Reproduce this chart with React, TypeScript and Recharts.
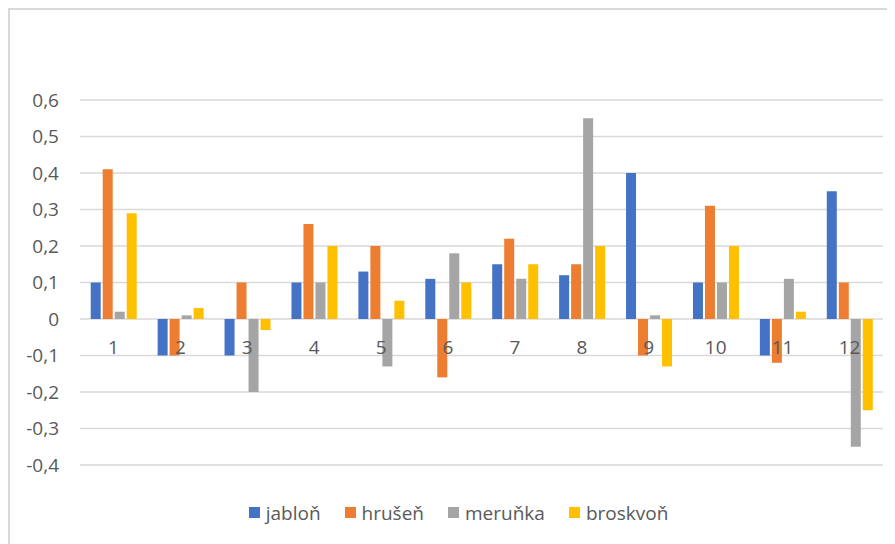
import React from 'react';
import {
  BarChart,
  Bar,
  XAxis,
  YAxis,
  CartesianGrid,
  Legend,
  ReferenceDot,
} from 'recharts';

// Month index 1..12
const categories = ['1', '2', '3', '4', '5', '6', '7', '8', '9', '10', '11', '12'];

const jablon = [0.1, -0.1, -0.1, 0.1, 0.13, 0.11, 0.15, 0.12, 0.4, 0.1, -0.1, 0.35];
const hrusen = [0.41, -0.1, 0.1, 0.26, 0.2, -0.16, 0.22, 0.15, -0.1, 0.31, -0.12, 0.1];
const merunka = [0.02, 0.01, -0.2, 0.1, -0.13, 0.18, 0.11, 0.55, 0.01, 0.1, 0.11, -0.35];
const broskvon = [0.29, 0.03, -0.03, 0.2, 0.05, 0.1, 0.15, 0.2, -0.13, 0.2, 0.02, -0.25];

const yTicks = [-0.4, -0.3, -0.2, -0.1, 0, 0.1, 0.2, 0.3, 0.4, 0.5, 0.6];

const series = [
  { key: 'jablon', name: 'jabloň', color: '#4472C4' },
  { key: 'hrusen', name: 'hrušeň', color: '#ED7D31' },
  { key: 'merunka', name: 'meruňka', color: '#A5A5A5' },
  { key: 'broskvon', name: 'broskvoň', color: '#FFC000' },
];

const data = categories.map((cat, i) => ({
  cat,
  jablon: jablon[i],
  hrusen: hrusen[i],
  merunka: merunka[i],
  broskvon: broskvon[i],
}));

const FONT = '"Open Sans", "Liberation Sans", sans-serif';
const TEXT = '#595959';
const GRID = '#D9D9D9';

const formatTick = (v: number) => {
  if (Math.abs(v) < 1e-9) return '0';
  return v.toFixed(1).replace('.', ',');
};

const seriesOrder = (name: string) => series.findIndex((s) => s.name === name);

const LegendContent = (props: any) => {
  const payload = [...(props.payload || [])].sort(
    (a: any, b: any) => seriesOrder(a.value) - seriesOrder(b.value)
  );
  return (
    <div
      style={{
        display: 'flex',
        justifyContent: 'center',
        alignItems: 'center',
        fontFamily: FONT,
        fontSize: 19,
        color: TEXT,
        height: '100%',
        paddingLeft: 14,
      }}
    >
      {payload.map((p: any) => (
        <div
          key={p.value}
          style={{ display: 'flex', alignItems: 'center', margin: '0 12px' }}
        >
          <span
            style={{
              display: 'inline-block',
              width: 11,
              height: 11,
              background: p.color,
              marginRight: 6,
            }}
          />
          <span>{p.value}</span>
        </div>
      ))}
    </div>
  );
};

const CategoryLabel = (props: any) => {
  const vb = props.viewBox || {};
  const cx = (vb.x ?? 0) + (vb.width ?? 0) / 2;
  const cy = (vb.y ?? 0) + (vb.height ?? 0) / 2;
  return (
    <text
      x={cx}
      y={cy + 35}
      textAnchor="middle"
      fill={TEXT}
      fontSize={19}
      fontFamily={FONT}
    >
      {props.value}
    </text>
  );
};

export default function App() {
  return (
    <div
      style={{
        width: 887,
        height: 536,
        borderLeft: `2px solid ${GRID}`,
        borderTop: `2px solid ${GRID}`,
        boxSizing: 'border-box',
        background: '#fff',
      }}
    >
      <BarChart
        width={885}
        height={534}
        data={data}
        margin={{ top: 90, right: 12, left: 10, bottom: 44 }}
        barCategoryGap="16%"
        barGap={2}
      >
        <CartesianGrid vertical={false} stroke={GRID} strokeWidth={1.5} />
        <XAxis dataKey="cat" hide />
        <YAxis
          width={60}
          domain={[-0.4, 0.6]}
          ticks={yTicks}
          tickFormatter={formatTick}
          axisLine={false}
          tickLine={false}
          tickMargin={15}
          tick={{ fill: TEXT, fontSize: 19, fontFamily: FONT }}
          interval={0}
        />
        {series.map((s) => (
          <Bar
            key={s.key}
            dataKey={s.key}
            name={s.name}
            fill={s.color}
            isAnimationActive={false}
          />
        ))}
        {categories.map((c) => (
          <ReferenceDot
            key={c}
            x={c}
            y={0}
            r={0}
            fill="none"
            stroke="none"
            label={<CategoryLabel value={c} />}
          />
        ))}
        <Legend
          verticalAlign="bottom"
          height={35}
          wrapperStyle={{ bottom: 14 }}
          content={<LegendContent />}
        />
      </BarChart>
    </div>
  );
}
